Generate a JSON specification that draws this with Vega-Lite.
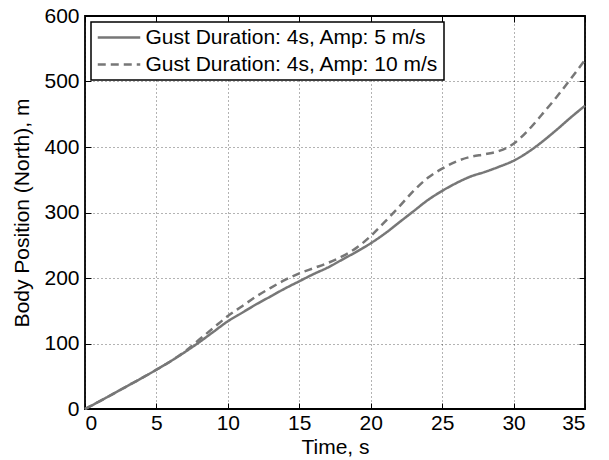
{
  "$schema": "https://vega.github.io/schema/vega-lite/v6.json",
  "width": 500,
  "height": 393,
  "padding": {"left": 11, "top": 5, "right": 5, "bottom": 5},
  "background": "white",
  "datasets": {
    "pos": [
      {"t": 0, "v": 0, "s": "Gust Duration: 4s, Amp: 5 m/s"},
      {"t": 1, "v": 11.5, "s": "Gust Duration: 4s, Amp: 5 m/s"},
      {"t": 2, "v": 23.5, "s": "Gust Duration: 4s, Amp: 5 m/s"},
      {"t": 3, "v": 35.5, "s": "Gust Duration: 4s, Amp: 5 m/s"},
      {"t": 4, "v": 47.5, "s": "Gust Duration: 4s, Amp: 5 m/s"},
      {"t": 5, "v": 60, "s": "Gust Duration: 4s, Amp: 5 m/s"},
      {"t": 6, "v": 73, "s": "Gust Duration: 4s, Amp: 5 m/s"},
      {"t": 7, "v": 87, "s": "Gust Duration: 4s, Amp: 5 m/s"},
      {"t": 8, "v": 102, "s": "Gust Duration: 4s, Amp: 5 m/s"},
      {"t": 9, "v": 118, "s": "Gust Duration: 4s, Amp: 5 m/s"},
      {"t": 10, "v": 134, "s": "Gust Duration: 4s, Amp: 5 m/s"},
      {"t": 11, "v": 147, "s": "Gust Duration: 4s, Amp: 5 m/s"},
      {"t": 12, "v": 160, "s": "Gust Duration: 4s, Amp: 5 m/s"},
      {"t": 13, "v": 172, "s": "Gust Duration: 4s, Amp: 5 m/s"},
      {"t": 14, "v": 184, "s": "Gust Duration: 4s, Amp: 5 m/s"},
      {"t": 15, "v": 195, "s": "Gust Duration: 4s, Amp: 5 m/s"},
      {"t": 16, "v": 206, "s": "Gust Duration: 4s, Amp: 5 m/s"},
      {"t": 17, "v": 216, "s": "Gust Duration: 4s, Amp: 5 m/s"},
      {"t": 18, "v": 228, "s": "Gust Duration: 4s, Amp: 5 m/s"},
      {"t": 19, "v": 240, "s": "Gust Duration: 4s, Amp: 5 m/s"},
      {"t": 20, "v": 253, "s": "Gust Duration: 4s, Amp: 5 m/s"},
      {"t": 21, "v": 268, "s": "Gust Duration: 4s, Amp: 5 m/s"},
      {"t": 22, "v": 285, "s": "Gust Duration: 4s, Amp: 5 m/s"},
      {"t": 23, "v": 302, "s": "Gust Duration: 4s, Amp: 5 m/s"},
      {"t": 24, "v": 319, "s": "Gust Duration: 4s, Amp: 5 m/s"},
      {"t": 25, "v": 333, "s": "Gust Duration: 4s, Amp: 5 m/s"},
      {"t": 26, "v": 345, "s": "Gust Duration: 4s, Amp: 5 m/s"},
      {"t": 27, "v": 355, "s": "Gust Duration: 4s, Amp: 5 m/s"},
      {"t": 28, "v": 362, "s": "Gust Duration: 4s, Amp: 5 m/s"},
      {"t": 29, "v": 370, "s": "Gust Duration: 4s, Amp: 5 m/s"},
      {"t": 30, "v": 379, "s": "Gust Duration: 4s, Amp: 5 m/s"},
      {"t": 31, "v": 392, "s": "Gust Duration: 4s, Amp: 5 m/s"},
      {"t": 32, "v": 408, "s": "Gust Duration: 4s, Amp: 5 m/s"},
      {"t": 33, "v": 426, "s": "Gust Duration: 4s, Amp: 5 m/s"},
      {"t": 34, "v": 445, "s": "Gust Duration: 4s, Amp: 5 m/s"},
      {"t": 35, "v": 463, "s": "Gust Duration: 4s, Amp: 5 m/s"},
      {"t": 0, "v": 0, "s": "Gust Duration: 4s, Amp: 10 m/s"},
      {"t": 1, "v": 11.5, "s": "Gust Duration: 4s, Amp: 10 m/s"},
      {"t": 2, "v": 23.5, "s": "Gust Duration: 4s, Amp: 10 m/s"},
      {"t": 3, "v": 35.5, "s": "Gust Duration: 4s, Amp: 10 m/s"},
      {"t": 4, "v": 47.5, "s": "Gust Duration: 4s, Amp: 10 m/s"},
      {"t": 5, "v": 60, "s": "Gust Duration: 4s, Amp: 10 m/s"},
      {"t": 6, "v": 73, "s": "Gust Duration: 4s, Amp: 10 m/s"},
      {"t": 7, "v": 88, "s": "Gust Duration: 4s, Amp: 10 m/s"},
      {"t": 8, "v": 106, "s": "Gust Duration: 4s, Amp: 10 m/s"},
      {"t": 9, "v": 124, "s": "Gust Duration: 4s, Amp: 10 m/s"},
      {"t": 10, "v": 142, "s": "Gust Duration: 4s, Amp: 10 m/s"},
      {"t": 11, "v": 157, "s": "Gust Duration: 4s, Amp: 10 m/s"},
      {"t": 12, "v": 172, "s": "Gust Duration: 4s, Amp: 10 m/s"},
      {"t": 13, "v": 185, "s": "Gust Duration: 4s, Amp: 10 m/s"},
      {"t": 14, "v": 197, "s": "Gust Duration: 4s, Amp: 10 m/s"},
      {"t": 15, "v": 207, "s": "Gust Duration: 4s, Amp: 10 m/s"},
      {"t": 16, "v": 215, "s": "Gust Duration: 4s, Amp: 10 m/s"},
      {"t": 17, "v": 223, "s": "Gust Duration: 4s, Amp: 10 m/s"},
      {"t": 18, "v": 233, "s": "Gust Duration: 4s, Amp: 10 m/s"},
      {"t": 19, "v": 246, "s": "Gust Duration: 4s, Amp: 10 m/s"},
      {"t": 20, "v": 264, "s": "Gust Duration: 4s, Amp: 10 m/s"},
      {"t": 21, "v": 286, "s": "Gust Duration: 4s, Amp: 10 m/s"},
      {"t": 22, "v": 309, "s": "Gust Duration: 4s, Amp: 10 m/s"},
      {"t": 23, "v": 333, "s": "Gust Duration: 4s, Amp: 10 m/s"},
      {"t": 24, "v": 353, "s": "Gust Duration: 4s, Amp: 10 m/s"},
      {"t": 25, "v": 367, "s": "Gust Duration: 4s, Amp: 10 m/s"},
      {"t": 26, "v": 378, "s": "Gust Duration: 4s, Amp: 10 m/s"},
      {"t": 27, "v": 385, "s": "Gust Duration: 4s, Amp: 10 m/s"},
      {"t": 28, "v": 389, "s": "Gust Duration: 4s, Amp: 10 m/s"},
      {"t": 29, "v": 394, "s": "Gust Duration: 4s, Amp: 10 m/s"},
      {"t": 30, "v": 405, "s": "Gust Duration: 4s, Amp: 10 m/s"},
      {"t": 31, "v": 425, "s": "Gust Duration: 4s, Amp: 10 m/s"},
      {"t": 32, "v": 450, "s": "Gust Duration: 4s, Amp: 10 m/s"},
      {"t": 33, "v": 476, "s": "Gust Duration: 4s, Amp: 10 m/s"},
      {"t": 34, "v": 504, "s": "Gust Duration: 4s, Amp: 10 m/s"},
      {"t": 35, "v": 533, "s": "Gust Duration: 4s, Amp: 10 m/s"}
    ]
  },
  "data": {"name": "pos"},
  "layer": [
    {
      "mark": {"type": "line", "color": "#777777", "strokeWidth": 2.5, "interpolate": "monotone"},
      "encoding": {
        "x": {
          "field": "t", "type": "quantitative",
          "scale": {"domain": [0, 35], "nice": false},
          "axis": {"title": "Time, s", "values": [0, 5, 10, 15, 20, 25, 30, 35], "orient": "bottom", "grid": true, "labelPadding": 9, "titlePadding": 3}
        },
        "y": {
          "field": "v", "type": "quantitative",
          "scale": {"domain": [0, 600], "nice": false},
          "axis": {"title": "Body Position (North), m", "values": [0, 100, 200, 300, 400, 500, 600], "orient": "left", "grid": true, "labelPadding": 12, "titlePadding": 11}
        },
        "strokeDash": {
          "field": "s", "type": "nominal",
          "scale": {
            "domain": ["Gust Duration: 4s, Amp: 5 m/s", "Gust Duration: 4s, Amp: 10 m/s"],
            "range": [[1, 0], [8, 5]]
          },
          "legend": {
            "title": null,
            "orient": "top-left",
            "offset": 6,
            "strokeColor": "black",
            "fillColor": "white",
            "padding": 5,
            "symbolType": "M-2.5,0H2.5",
            "symbolSize": 289,
            "symbolOffset": 12.5,
            "symbolStrokeWidth": 2.5,
            "symbolStrokeColor": "#777777",
            "labelFontSize": 21,
            "labelOffset": 16,
            "rowPadding": 5,
            "labelLimit": 500,
            "labelColor": "black"
          }
        }
      }
    },
    {
      "mark": {"type": "line", "opacity": 0},
      "encoding": {
        "x": {
          "field": "t", "type": "quantitative",
          "axis": {"title": null, "labels": false, "grid": false, "orient": "top", "values": [0, 5, 10, 15, 20, 25, 30, 35]}
        },
        "y": {
          "field": "v", "type": "quantitative",
          "axis": {"title": null, "labels": false, "grid": false, "orient": "right", "values": [0, 100, 200, 300, 400, 500, 600]}
        },
        "detail": {"field": "s"}
      }
    }
  ],
  "resolve": {"axis": {"x": "independent", "y": "independent"}},
  "config": {
    "font": "Liberation Sans",
    "view": {"stroke": "black", "strokeWidth": 1.8},
    "axis": {
      "domain": false,
      "tickColor": "black",
      "tickSize": -6,
      "tickWidth": 1,
      "labelFontSize": 21,
      "labelColor": "black",
      "titleFontSize": 21,
      "titleFontWeight": "normal",
      "titleColor": "black",
      "gridColor": "#000000",
      "gridOpacity": 0.6,
      "gridDash": [1, 3],
      "gridWidth": 1
    },
    "legend": {"strokeWidth": 1.5}
  }
}
